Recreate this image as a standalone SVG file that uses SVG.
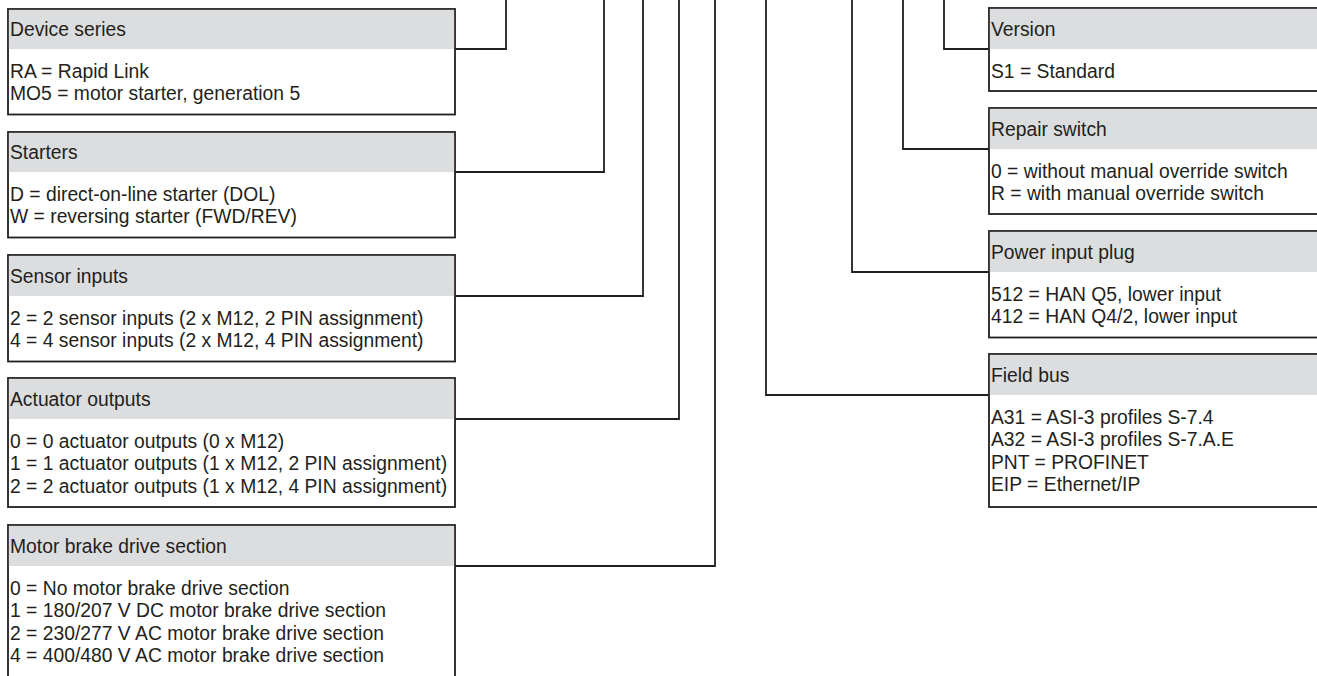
<svg xmlns="http://www.w3.org/2000/svg" width="1317" height="676" viewBox="0 0 1317 676">
<style>
.bx{fill:#ffffff;stroke:#231f20;stroke-width:1.8}
.hd{fill:#dcddde;stroke:none}
.t{font-family:"Liberation Sans",Arial,sans-serif;font-size:21px;fill:#231f20}
.c{fill:none;stroke:#231f20;stroke-width:1.8}
</style>
<rect width="1317" height="676" fill="#ffffff"/>
<g id="connectors">
<polyline class="c" points="506,0 506,49 455,49"/>
<polyline class="c" points="604,0 604,172 455,172"/>
<polyline class="c" points="643,0 643,296 455,296"/>
<polyline class="c" points="679,0 679,419 455,419"/>
<polyline class="c" points="715,0 715,566 455,566"/>
<polyline class="c" points="766,0 766,395 989,395"/>
<polyline class="c" points="852,0 852,272 989,272"/>
<polyline class="c" points="903,0 903,149 989,149"/>
<polyline class="c" points="944,0 944,49 989,49"/>
</g>
<g id="device-series">
<rect class="bx" x="8" y="9" width="447" height="105.5"/>
<rect class="hd" x="8.9" y="9.9" width="445.2" height="39.1"/>
<g transform="translate(10,0) scale(0.92,1)">
<text class="t" x="0" y="36.5">Device series</text>
<text class="t" x="0" y="78">RA = Rapid Link</text>
<text class="t" x="0" y="100.5">MO5 = motor starter, generation 5</text>
</g>
</g>
<g id="starters">
<rect class="bx" x="8" y="132" width="447" height="105.5"/>
<rect class="hd" x="8.9" y="132.9" width="445.2" height="39.1"/>
<g transform="translate(10,0) scale(0.92,1)">
<text class="t" x="0" y="159.5">Starters</text>
<text class="t" x="0" y="201">D = direct-on-line starter (DOL)</text>
<text class="t" x="0" y="223.5">W = reversing starter (FWD/REV)</text>
</g>
</g>
<g id="sensor-inputs">
<rect class="bx" x="8" y="255" width="447" height="106.5"/>
<rect class="hd" x="8.9" y="255.9" width="445.2" height="40.1"/>
<g transform="translate(10,0) scale(0.92,1)">
<text class="t" x="0" y="283">Sensor inputs</text>
<text class="t" x="0" y="325">2 = 2 sensor inputs (2 x M12, 2 PIN assignment)</text>
<text class="t" x="0" y="347.5">4 = 4 sensor inputs (2 x M12, 4 PIN assignment)</text>
</g>
</g>
<g id="actuator-outputs">
<rect class="bx" x="8" y="378" width="447" height="129"/>
<rect class="hd" x="8.9" y="378.9" width="445.2" height="40.1"/>
<g transform="translate(10,0) scale(0.92,1)">
<text class="t" x="0" y="406">Actuator outputs</text>
<text class="t" x="0" y="448">0 = 0 actuator outputs (0 x M12)</text>
<text class="t" x="0" y="470.5">1 = 1 actuator outputs (1 x M12, 2 PIN assignment)</text>
<text class="t" x="0" y="493">2 = 2 actuator outputs (1 x M12, 4 PIN assignment)</text>
</g>
</g>
<g id="motor-brake">
<rect class="bx" x="8" y="525" width="447" height="170"/>
<rect class="hd" x="8.9" y="525.9" width="445.2" height="40.1"/>
<g transform="translate(10,0) scale(0.92,1)">
<text class="t" x="0" y="553">Motor brake drive section</text>
<text class="t" x="0" y="595">0 = No motor brake drive section</text>
<text class="t" x="0" y="617.5">1 = 180/207 V DC motor brake drive section</text>
<text class="t" x="0" y="640">2 = 230/277 V AC motor brake drive section</text>
<text class="t" x="0" y="662.5">4 = 400/480 V AC motor brake drive section</text>
</g>
</g>
<g id="version">
<rect class="bx" x="989" y="8" width="340" height="83"/>
<rect class="hd" x="989.9" y="8.9" width="330" height="40.1"/>
<g transform="translate(991,0) scale(0.92,1)">
<text class="t" x="0" y="36">Version</text>
<text class="t" x="0" y="78">S1 = Standard</text>
</g>
</g>
<g id="repair-switch">
<rect class="bx" x="989" y="108" width="340" height="106"/>
<rect class="hd" x="989.9" y="108.9" width="330" height="40.1"/>
<g transform="translate(991,0) scale(0.92,1)">
<text class="t" x="0" y="136">Repair switch</text>
<text class="t" x="0" y="178">0 = without manual override switch</text>
<text class="t" x="0" y="200.5">R = with manual override switch</text>
</g>
</g>
<g id="power-input-plug">
<rect class="bx" x="989" y="231" width="340" height="106.5"/>
<rect class="hd" x="989.9" y="231.9" width="330" height="40.1"/>
<g transform="translate(991,0) scale(0.92,1)">
<text class="t" x="0" y="259">Power input plug</text>
<text class="t" x="0" y="301">512 = HAN Q5, lower input</text>
<text class="t" x="0" y="323.5">412 = HAN Q4/2, lower input</text>
</g>
</g>
<g id="field-bus">
<rect class="bx" x="989" y="354" width="340" height="153"/>
<rect class="hd" x="989.9" y="354.9" width="330" height="40.1"/>
<g transform="translate(991,0) scale(0.92,1)">
<text class="t" x="0" y="382">Field bus</text>
<text class="t" x="0" y="424">A31 = ASI-3 profiles S-7.4</text>
<text class="t" x="0" y="446.5">A32 = ASI-3 profiles S-7.A.E</text>
<text class="t" x="0" y="469">PNT = PROFINET</text>
<text class="t" x="0" y="491.5">EIP = Ethernet/IP</text>
</g>
</g>
</svg>
